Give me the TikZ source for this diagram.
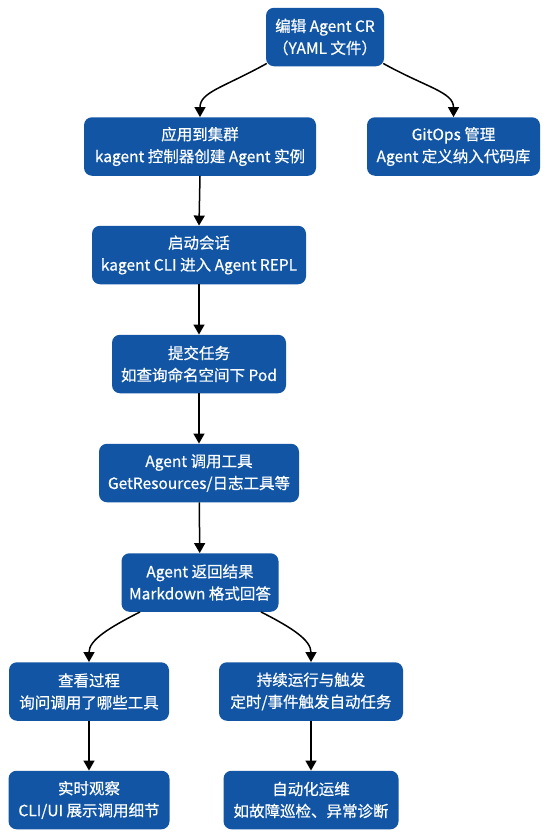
\documentclass[tikz,border=0pt]{standalone}
\usepackage{fontspec}
\setmainfont{Noto Sans CJK SC}
\newfontfamily\boxfont{Noto Sans CJK SC}[FakeBold=0.6]
\usetikzlibrary{arrows.meta,calc}
\definecolor{boxblue}{RGB}{17,85,164}
\begin{document}
\begin{tikzpicture}[x=1pt,y=-1pt,
  box/.style={fill=boxblue, rounded corners=8pt, text=white, align=center,
    minimum height=58.5pt, inner xsep=0pt, inner ysep=0pt,
    font=\boxfont\fontsize{15.5pt}{22pt}\selectfont},
  conn/.style={line width=1.5pt, -{Triangle[length=10pt,width=11pt]}}]
\useasboundingbox (0,0) rectangle (546,838);
\node[box, minimum width=118pt] (b1) at (325,37) {编辑 Agent CR\\（YAML 文件）};
\node[box, minimum width=232pt] (b2) at (200,146.5) {应用到集群\\kagent 控制器创建 Agent 实例};
\node[box, minimum width=173pt] (b3) at (453.5,146.5) {GitOps 管理\\Agent 定义纳入代码库};
\node[box, minimum width=214pt] (b4) at (199,255) {启动会话\\kagent CLI 进入 Agent REPL};
\node[box, minimum width=174pt] (b5) at (199,364) {提交任务\\如查询命名空间下 Pod};
\node[box, minimum width=200pt] (b6) at (199,473) {Agent 调用工具\\GetResources/日志工具等};
\node[box, minimum width=157pt] (b7) at (200,582.5) {Agent 返回结果\\Markdown 格式回答};
\node[box, minimum width=160pt] (b8) at (89,691.5) {查看过程\\询问调用了哪些工具};
\node[box, minimum width=184pt] (b9) at (311,691.5) {持续运行与触发\\定时/事件触发自动任务};
\node[box, minimum width=161pt] (b10) at (89,800) {实时观察\\CLI/UI 展示调用细节};
\node[box, minimum width=175pt] (b11) at (311,800) {自动化运维\\如故障巡检、异常诊断};
\draw[conn] ([xshift=1pt,yshift=3pt]b1.south west) .. controls +(209:50pt) and +(90:25pt) .. (b2.north);
\draw[conn] ([xshift=-1pt,yshift=3pt]b1.south east) .. controls +(-29:50pt) and +(90:25pt) .. (b3.north);
\draw[conn] (b2.south) -- (b4.north);
\draw[conn] (b4) -- (b5);
\draw[conn] (b5) -- (b6);
\draw[conn] (b6) -- (b7);
\draw[conn] ([xshift=-60pt]b7.south) .. controls +(207:35pt) and +(90:22pt) .. (b8.north);
\draw[conn] ([xshift=61pt]b7.south) .. controls +(-27:35pt) and +(90:22pt) .. (b9.north);
\draw[conn] (b8) -- (b10);
\draw[conn] (b9) -- (b11);
\end{tikzpicture}
\end{document}
